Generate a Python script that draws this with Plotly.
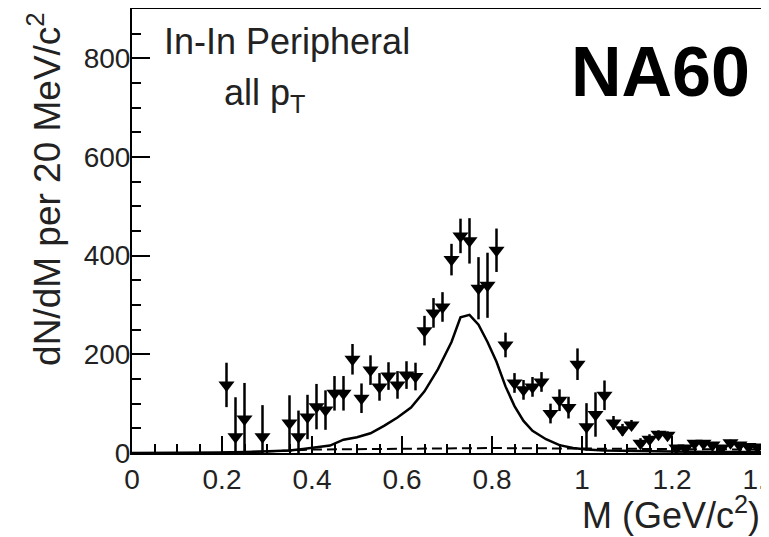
import plotly.graph_objects as go

# Data
mass = [0.21, 0.23, 0.25, 0.29, 0.35, 0.37, 0.39, 0.41, 0.43, 0.45, 0.47, 0.49, 0.51, 0.53,
        0.55, 0.57, 0.59, 0.61, 0.63, 0.65, 0.67, 0.69, 0.71, 0.73, 0.75, 0.77, 0.79, 0.81,
        0.83, 0.85, 0.87, 0.89, 0.91, 0.93, 0.95, 0.97, 0.99, 1.01, 1.03, 1.05, 1.07, 1.09,
        1.11, 1.13, 1.15, 1.17, 1.19, 1.21, 1.23, 1.25, 1.27, 1.29, 1.31, 1.33, 1.35, 1.37, 1.39]
counts = [138, 33, 69, 33, 61, 33, 73, 94, 87, 121, 121, 190, 111, 168,
          134, 156, 138, 158, 155, 248, 284, 296, 392, 440, 430, 334, 340, 411,
          219, 142, 128, 134, 144, 80, 107, 92, 180, 53, 78, 117, 61, 47,
          57, 20, 28, 38, 36, 10, 10, 20, 20, 16, 10, 21, 16, 13, 12]
errors = [45, 80, 73, 64, 56, 53, 45, 46, 40, 35, 35, 31, 30, 30,
          28, 28, 28, 28, 28, 30, 30, 30, 32, 35, 46, 63, 66, 44,
          25, 20, 20, 20, 20, 20, 22, 22, 32, 48, 45, 30, 14, 12,
          10, 10, 10, 8, 8, 6, 6, 6, 6, 6, 6, 6, 6, 6, 6]

model_x = [0.0, 0.1, 0.2, 0.25, 0.3, 0.35, 0.38, 0.41, 0.44, 0.47, 0.5, 0.53, 0.56, 0.59,
           0.62, 0.65, 0.68, 0.71, 0.73, 0.75, 0.77, 0.79, 0.81, 0.83, 0.85, 0.87, 0.89,
           0.92, 0.95, 0.98, 1.01, 1.05, 1.1, 1.2, 1.3, 1.4]
model_y = [0, 0, 1, 2, 3, 5, 8, 12, 15, 27, 32, 40, 55, 72,
           92, 125, 170, 225, 275, 280, 260, 225, 185, 135, 95, 65, 45,
           28, 16, 10, 7, 5, 4, 3, 2, 2]

bg_x = [0.2, 0.3, 0.4, 0.6, 0.8, 1.0, 1.2, 1.4]
bg_y = [1, 3, 7, 9, 10, 9, 8, 7]

x_ticks = [0, 0.2, 0.4, 0.6, 0.8, 1.0, 1.2, 1.4]
x_ticklabels = ["0", "0.2", "0.4", "0.6", "0.8", "1", "1.2", "1.4"]

fig = go.Figure()

fig.add_trace(go.Scatter(x=bg_x, y=bg_y, mode="lines",
                         line=dict(color="black", width=2, dash="10px,5px"),
                         showlegend=False))
fig.add_trace(go.Scatter(x=model_x, y=model_y, mode="lines",
                         line=dict(color="black", width=2.5),
                         showlegend=False))
fig.add_trace(go.Scatter(x=mass, y=counts, mode="markers",
                         marker=dict(symbol="triangle-down", size=14, color="black"),
                         error_y=dict(type="data", array=errors, visible=True,
                                      color="black", thickness=2.5, width=0),
                         showlegend=False, cliponaxis=True))

font_main = "Liberation Sans, Arial, sans-serif"
axis_common = dict(showline=True, mirror=True, linecolor="black", linewidth=2,
                   ticks="inside", tickwidth=2, tickcolor="black", showgrid=False,
                   zeroline=False, automargin=False,
                   tickfont=dict(family=font_main, size=28, color="#222"))

fig.update_xaxes(range=[0, 1.4], tickmode="array", tickvals=x_ticks, ticktext=x_ticklabels,
                 ticklen=17, ticklabeloverflow="allow",
                 minor=dict(dtick=0.05, tick0=0, ticklen=9, ticks="inside", tickwidth=2,
                            tickcolor="black"),
                 **axis_common)
fig.update_yaxes(range=[0, 900], dtick=200, tick0=0, ticklen=18, ticklabelstandoff=-6,
                 minor=dict(dtick=50, ticklen=9, ticks="inside", tickwidth=2, tickcolor="black"),
                 **axis_common)

# The page body has an 8 px margin, so the figure is sized/positioned to compensate.
fig.update_layout(
    width=761, height=529,
    margin=dict(l=124, r=7, t=1, b=84),
    plot_bgcolor="white", paper_bgcolor="white",
    annotations=[
        dict(text="dN/dM per 20 MeV/c<sup>2</sup>", textangle=-90, xref="paper", yref="paper",
             x=-0.138, y=0.998, xanchor="center", yanchor="top", showarrow=False,
             font=dict(family=font_main, size=37, color="#222")),
        dict(text="M (GeV/c<sup>2</sup>)", xref="paper", yref="paper",
             x=1.0, y=-0.135, xanchor="right", yanchor="middle", showarrow=False,
             font=dict(family=font_main, size=36, color="#222")),
        dict(text="In-In Peripheral", xref="paper", yref="paper",
             x=0.048, y=0.926, xanchor="left", yanchor="middle", showarrow=False,
             font=dict(family=font_main, size=36, color="#222")),
        dict(text="all p<sub>T</sub>", xref="paper", yref="paper",
             x=0.143, y=0.806, xanchor="left", yanchor="middle", showarrow=False,
             font=dict(family=font_main, size=36, color="#222")),
        dict(text="<b>NA60</b>", xref="paper", yref="paper",
             x=0.984, y=0.858, xanchor="right", yanchor="middle", showarrow=False,
             font=dict(family=font_main, size=70, color="black")),
    ],
)

fig.write_html("out.html")
